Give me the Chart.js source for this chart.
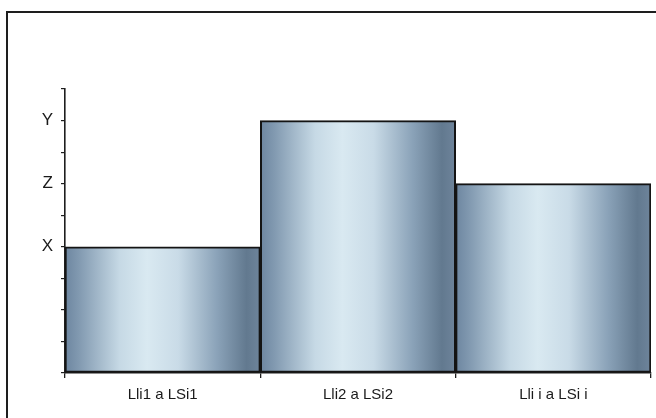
<!DOCTYPE html>
<html>
<head>
<meta charset="utf-8">
<script src="https://cdn.jsdelivr.net/npm/chart.js@4/dist/chart.umd.min.js"></script>
<style>
  html, body { margin: 0; padding: 0; background: #ffffff; }
  #wrap { width: 656px; height: 418px; position: relative; }
</style>
</head>
<body>
<div id="wrap"><canvas id="c" width="656" height="418"></canvas></div>
<script>
// Intervals on the horizontal axis
const categories = ['Lli1 a LSi1', 'Lli2 a LSi2', 'Lli i a LSi i'];
// Bar heights on the vertical scale
const values = [4, 8, 6];
// Named levels on the vertical axis
const yTickValues = [4, 6, 8];
const yTickNames = ['X', 'Z', 'Y'];

// Outer frame of the figure
const framePlugin = {
  id: 'frame',
  beforeDraw(chart) {
    const c = chart.ctx;
    c.save();
    c.fillStyle = '#ffffff';
    c.fillRect(0, 0, chart.width, chart.height);
    c.strokeStyle = '#1e1e1e';
    c.lineWidth = 2;
    c.strokeRect(7, 12, chart.width + 20, chart.height + 20);
    c.restore();
  }
};

// Shaded cylinder-like fill across each bar
function barFill(ctx) {
  const chart = ctx.chart;
  const xs = chart.scales.x;
  if (!xs || xs.width === undefined || ctx.dataIndex === undefined) return '#a9bfd0';
  const w = xs.width / categories.length;
  const cx = xs.getPixelForValue(ctx.dataIndex);
  const x0 = cx - w / 2, x1 = cx + w / 2;
  const g = chart.ctx.createLinearGradient(x0, 0, x1, 0);
  g.addColorStop(0.00, '#6d86a0');
  g.addColorStop(0.07, '#8199b0');
  g.addColorStop(0.28, '#c6d9e5');
  g.addColorStop(0.42, '#d9e9f1');
  g.addColorStop(0.58, '#c9dbe7');
  g.addColorStop(0.78, '#8aa2b8');
  g.addColorStop(0.93, '#62798f');
  g.addColorStop(1.00, '#6e849b');
  return g;
}

new Chart(document.getElementById('c'), {
  type: 'bar',
  data: {
    labels: categories,
    datasets: [{
      data: values,
      backgroundColor: barFill,
      borderColor: '#141414',
      borderWidth: 2,
      borderSkipped: false,
      barPercentage: 1,
      categoryPercentage: 1
    }]
  },
  options: {
    responsive: false,
    animation: false,
    events: [],
    layout: { padding: { left: 0, right: 5, top: 89, bottom: 0 } },
    plugins: { legend: { display: false }, tooltip: { enabled: false } },
    scales: {
      x: {
        type: 'category',
        offset: true,
        grid: { offset: true, drawOnChartArea: false, drawTicks: true, tickLength: 5, color: '#1e1e1e', lineWidth: 1.3 },
        border: { display: true, color: '#1e1e1e', width: 1.6 },
        ticks: { color: '#1a1a1a', padding: 8, font: { family: 'Liberation Sans, Arial, sans-serif', size: 15 }, maxRotation: 0, autoSkip: false },
        afterFit(scale) { scale.height = 45; }
      },
      y: {
        min: 0,
        max: 9,
        grid: { drawOnChartArea: false, drawTicks: true, tickLength: 4, color: '#1e1e1e', lineWidth: 1.2 },
        border: { display: true, color: '#1e1e1e', width: 1.6 },
        ticks: {
          stepSize: 1,
          color: '#1a1a1a',
          padding: 8,
          font: { family: 'Liberation Sans, Arial, sans-serif', size: 17 },
          callback(v) {
            const i = yTickValues.indexOf(v);
            return i >= 0 ? yTickNames[i] : '';
          }
        },
        afterFit(scale) { scale.width = 65; }
      }
    }
  },
  plugins: [framePlugin]
});
</script>
</body>
</html>
